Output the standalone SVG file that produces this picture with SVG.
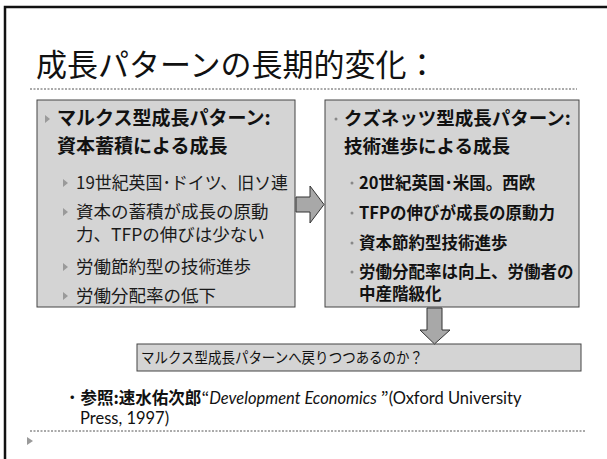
<svg xmlns="http://www.w3.org/2000/svg" width="607" height="459" viewBox="0 0 607 459">
<style>
.jp{font-family:"Noto Sans CJK JP","Noto Sans",sans-serif;fill:#111}
.box{fill:#d4d4d4;stroke:#444;stroke-width:1}
.dash{stroke:#555;stroke-width:1;stroke-dasharray:2,1.5;fill:none}
.arr{fill:#a8a8a8;stroke:#333;stroke-width:1}
.tri{fill:#9a9a9a}
.h{font-weight:bold}
.i{font-size:17.5px;fill:#1a1a1a}
.ib{font-size:16.5px;font-weight:bold}
.dot{fill:#888}
.lat{font-family:Lato,"Noto Sans",sans-serif}
</style>
<rect width="607" height="459" fill="#fff"/>
<path d="M5,459 V7 H607" fill="none" stroke="#111" stroke-width="2.5"/>
<g id="title"><text class="jp" x="36" y="76" font-size="31">成長パターンの長期的変化：</text></g>
<line class="dash" x1="30" y1="89" x2="577" y2="89"/>
<g id="marx">
<rect class="box" x="37" y="100" width="258" height="207"/>
<path class="tri" d="M45,115 l5,4 l-5,4z"/>
<text class="jp h" x="57" y="125" font-size="19">マルクス型成長パターン:</text>
<text class="jp h" x="57" y="153" font-size="19">資本蓄積による成長</text>
<path class="tri" d="M63,179 l5,4 l-5,4z"/>
<text class="jp i" x="76" y="189" textLength="212" lengthAdjust="spacingAndGlyphs">19世紀英国･ドイツ、旧ソ連</text>
<path class="tri" d="M63,208 l5,4 l-5,4z"/>
<text class="jp i" x="76" y="218">資本の蓄積が成長の原動</text>
<text class="jp i" x="76" y="241">力、TFPの伸びは少ない</text>
<path class="tri" d="M63,263 l5,4 l-5,4z"/>
<text class="jp i" x="76" y="273">労働節約型の技術進歩</text>
<path class="tri" d="M63,292 l5,4 l-5,4z"/>
<text class="jp i" x="76" y="302">労働分配率の低下</text>
</g>
<g id="kuznets">
<rect class="box" x="325" y="100" width="254" height="207"/>
<circle class="dot" cx="336" cy="119" r="1.5"/>
<text class="jp h" x="344" y="125" font-size="18.5">クズネッツ型成長パターン:</text>
<text class="jp h" x="344" y="153" font-size="18.5">技術進歩による成長</text>
<circle class="dot" cx="352" cy="183" r="1.5"/>
<text class="jp ib" x="359" y="189">20世紀英国･米国。西欧</text>
<circle class="dot" cx="352" cy="213" r="1.5"/>
<text class="jp ib" x="359" y="219">TFPの伸びが成長の原動力</text>
<circle class="dot" cx="352" cy="243" r="1.5"/>
<text class="jp ib" x="359" y="249">資本節約型技術進歩</text>
<circle class="dot" cx="352" cy="272" r="1.5"/>
<text class="jp ib" x="359" y="278">労働分配率は向上、労働者の</text>
<text class="jp ib" x="359" y="300">中産階級化</text>
</g>
<g id="question">
<rect class="box" x="137" y="344" width="444" height="27"/>
<text class="jp" x="141" y="363" font-size="15" textLength="282" lengthAdjust="spacingAndGlyphs">マルクス型成長パターンへ戻りつつあるのか？</text>
</g>
<g id="connectors">
<path class="arr" d="M296,197 H310 V186 L324,204.5 L310,223 V212 H296 Z"/>
<path class="arr" d="M427,308 H442 V330 H450 L434.5,344 L420,330 H427 Z"/>
</g>
<g id="reference">
<text class="jp" x="64" y="404" font-size="16.5">・<tspan font-weight="bold">参照:速水佑次郎</tspan>“<tspan class="lat" font-style="italic">Development Economics </tspan>”<tspan class="lat">(Oxford University</tspan></text>
<text class="jp lat" x="80" y="424" font-size="16.5">Press, 1997)</text>
</g>
<line class="dash" x1="30" y1="431" x2="585" y2="431"/>
<path class="tri" d="M27,437 l6,4 l-6,4z"/>
</svg>
